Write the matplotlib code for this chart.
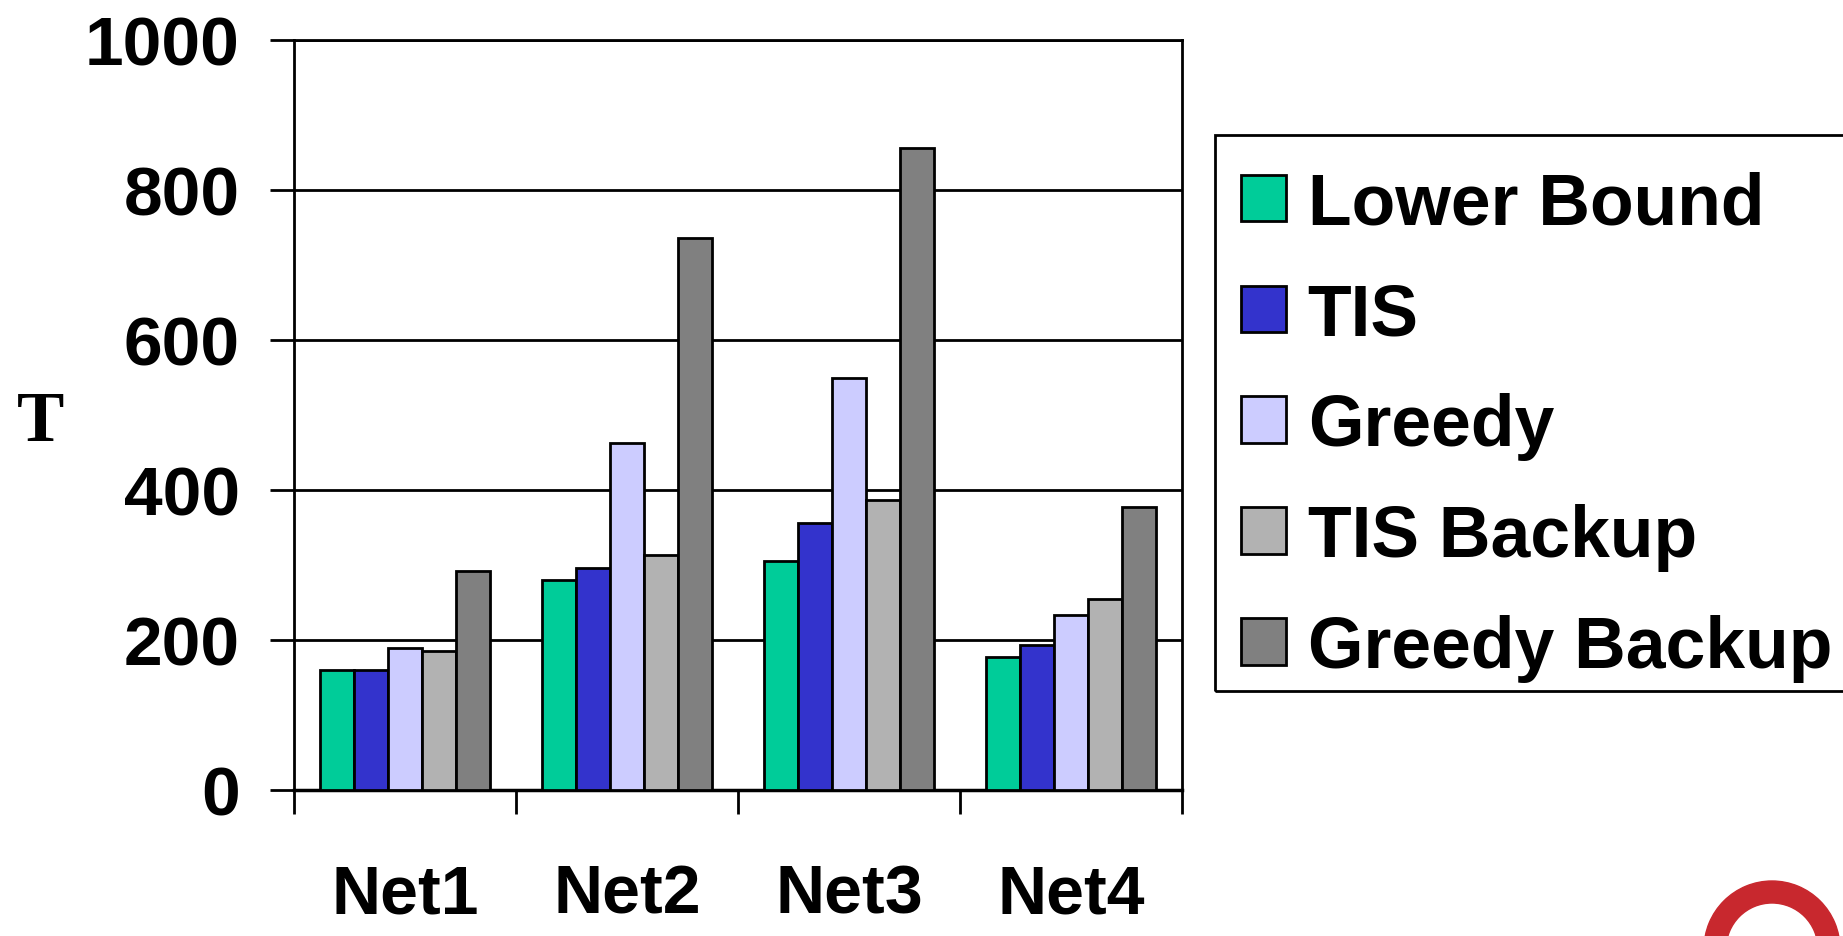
import numpy as np
import matplotlib.pyplot as plt
from matplotlib.patches import Annulus, Rectangle
from matplotlib.transforms import IdentityTransform

plt.rcParams['font.family'] = ['Liberation Sans', 'DejaVu Sans']
plt.rcParams['font.weight'] = 'bold'

# Donnees
reseaux = ['Net1', 'Net2', 'Net3', 'Net4']
noms = ['Lower Bound', 'TIS', 'Greedy', 'TIS Backup', 'Greedy Backup']
lower_bound = [160, 280, 306, 178]
tis = [160, 296, 356, 194]
greedy = [190, 463, 549, 233]
tis_backup = [186, 314, 387, 255]
greedy_backup = [292, 736, 856, 378]
couleurs = ['#00CC99', '#3333CC', '#CCCCFF', '#B2B2B2', '#808080']

series = [lower_bound, tis, greedy, tis_backup, greedy_backup]

fig = plt.figure(figsize=(18.43, 9.37), dpi=100)
ax = fig.add_axes([294/1843, 1 - 791/937, (1182 - 294)/1843, (791 - 41)/937])

x = np.arange(len(reseaux))
larg = 0.154
for i, (vals, nom, c) in enumerate(zip(series, noms, couleurs)):
    ax.bar(x + (i - 2) * larg, vals, larg, color=c, edgecolor='black',
           linewidth=2, label=nom, zorder=3)

ax.set_xlim(-0.5, 3.5)
ax.set_ylim(0, 1000)
ax.set_yticks(range(0, 1001, 200))
ax.tick_params(axis='y', labelsize=50, length=17, width=2, pad=22)
ax.yaxis.grid(True, color='black', linewidth=2, zorder=0)

# graduations x entre les groupes, etiquettes au centre
ax.set_xticks(np.arange(-0.5, 4.0, 1.0))
ax.set_xticklabels([])
ax.set_xticks(x, minor=True)
ax.set_xticklabels(reseaux, minor=True)
ax.tick_params(axis='x', which='major', length=17, width=2)
ax.tick_params(axis='x', which='minor', length=0, labelsize=49, pad=52)

for s in ax.spines.values():
    s.set_linewidth(2)
ax.spines['bottom'].set_linewidth(2.5)

fig.text(14/1843 * 1.1754, 1 - 360 * 1.1754 / 937, 'T', fontsize=51,
         family=['Liberation Serif'], fontweight='bold', va='center', ha='left')

# legende sans cadre, cadre trace a part (coupe par le bord droit)
leg = ax.legend(loc='upper left', bbox_to_anchor=(1209/1843, 1 - 139/937),
                bbox_transform=fig.transFigure, fontsize=51.5, frameon=False,
                borderaxespad=0, handlelength=0.63,
                handleheight=0.63, handletextpad=0.3, labelspacing=0.6,
                borderpad=0.45)
for h in leg.legend_handles:
    h.set_linewidth(2)
fig.add_artist(Rectangle((1215, 937 - 692), 700, 692 - 136, fill=False,
                         edgecolor='black', linewidth=2,
                         transform=IdentityTransform(), clip_on=False))

# logo en bas a droite
fig.add_artist(Annulus((1772, -13), 68, 22, color='#C8282E',
                       transform=IdentityTransform(), clip_on=False))

fig.savefig('out.png', dpi=100)
